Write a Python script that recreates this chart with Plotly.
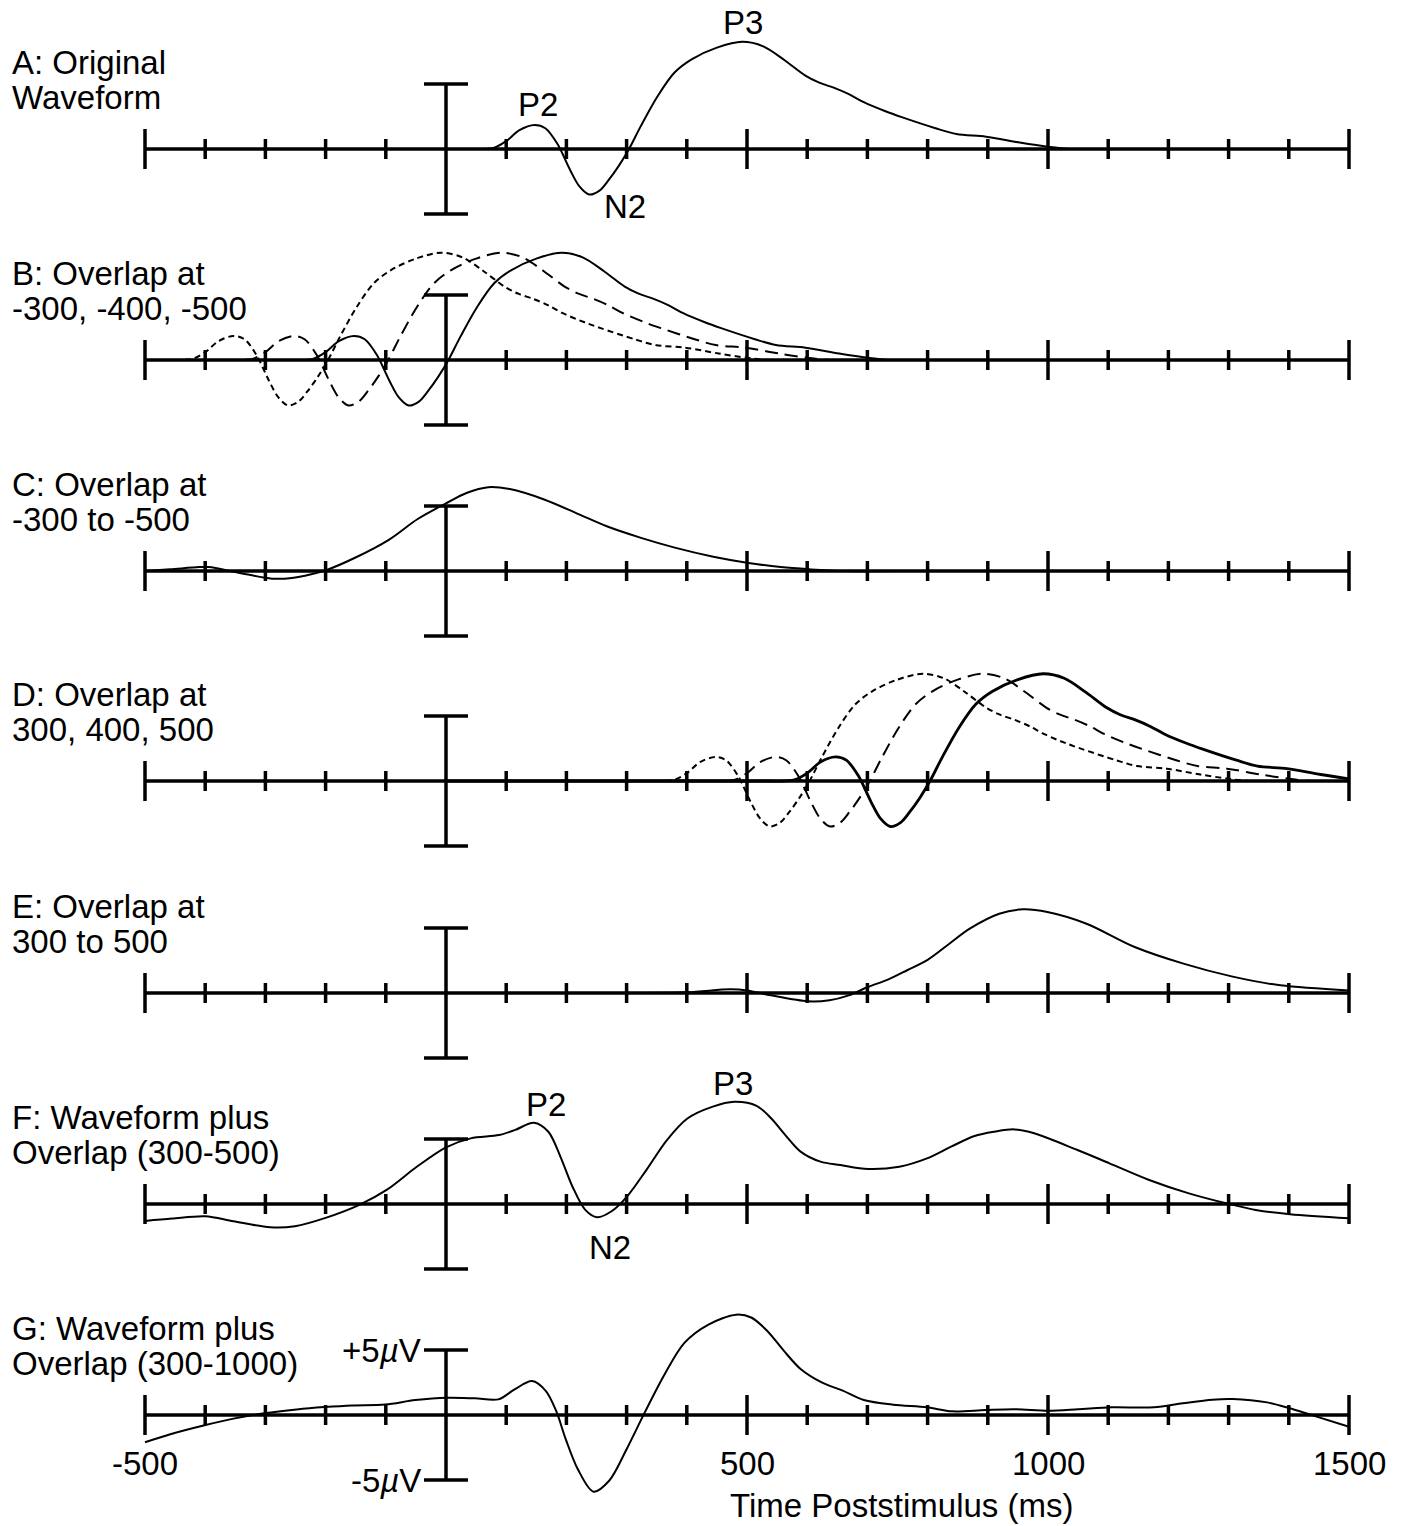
import plotly.graph_objects as go

# ---------------- data (ms, microvolts) ----------------
# A: original waveform
a_ms = [-500, -400, -300, -200, -100, 0, 40, 62, 80, 100, 122, 147, 165, 185, 206, 222,
        238, 255, 270, 287, 304, 324, 352, 380, 408, 450, 492, 527, 562, 597, 620, 645,
        670, 694, 730, 757, 813, 848, 897, 953, 1000, 1030, 1100, 1200, 1300, 1400, 1500]
a_uv = [0, 0, 0, 0, 0, 0, 0, 0.0, 0.1, 0.6, 1.45, 1.85, 1.6, 0.4, -1.6, -2.9,
        -3.5, -3.2, -2.4, -1.3, 0.0, 1.8, 4.1, 5.9, 6.9, 7.8, 8.25, 7.9, 6.85, 5.65, 5.1, 4.7,
        4.2, 3.6, 2.9, 2.45, 1.6, 1.15, 0.95, 0.5, 0.17, 0.02, 0, 0, 0, 0, 0]

# B / D: overlap latencies (the original waveform shifted)
b_shifts = [-300, -400, -500]
d_shifts = [300, 400, 500]

# C: overlap averaged over -300 to -500
c_ms = [-500, -458, -410, -394, -345, -289, -256, -224, -200, -152, -95, -47, 0, 34, 70,
        106, 163, 219, 267, 324, 380, 444, 500, 556, 604, 660, 800, 1000, 1200, 1500]
c_uv = [0, 0.13, 0.3, 0.3, -0.13, -0.59, -0.54, -0.25, 0.05, 1.0, 2.4, 4.0, 5.2, 6.0, 6.45,
        6.3, 5.5, 4.4, 3.44, 2.55, 1.8, 1.1, 0.64, 0.3, 0.13, 0, 0, 0, 0, 0]

# E: overlap averaged over 300 to 500
e_ms = [-500, 0, 300, 401, 472, 500, 540, 601, 637, 669, 701, 735, 766, 800, 835, 870, 919,
        959, 999, 1064, 1144, 1225, 1305, 1386, 1500]
e_uv = [0, 0, 0, 0.05, 0.28, 0.2, -0.18, -0.64, -0.56, -0.18, 0.46, 1.05, 1.75, 2.55, 3.75,
        4.95, 6.1, 6.44, 6.23, 5.33, 3.54, 2.26, 1.28, 0.59, 0.2]

# F: waveform plus overlap (300-500)
f_ms = [-500, -455, -400, -353, -292, -251, -200, -143, -98, -48, 0, 41, 88, 115, 146, 170,
        190, 210, 231, 251, 275, 301, 333, 367, 401, 442, 479, 516, 540, 562, 589, 622, 655,
        701, 753, 799, 839, 878, 911, 944, 977, 1049, 1102, 1168, 1234, 1301, 1345, 1402, 1500]
f_uv = [-1.3, -1.12, -0.94, -1.33, -1.79, -1.71, -1.07, -0.05, 1.1, 2.88, 4.36, 5.05, 5.3, 5.7,
        6.25, 5.56, 3.65, 1.35, -0.43, -1.02, -0.56, 0.59, 2.63, 4.92, 6.58, 7.47, 7.86, 7.55,
        6.6, 5.4, 4.03, 3.26, 3.0, 2.69, 2.87, 3.51, 4.41, 5.23, 5.56, 5.74, 5.44, 4.15, 3.13,
        1.85, 0.82, 0.0, -0.46, -0.79, -1.1]

# G: waveform plus overlap (300-1000)
g_ms = [-500, -458, -401, -353, -302, -248, -202, -156, -101, -51, 2, 48, 87, 114, 143, 166,
        183, 199, 219, 245, 271, 300, 330, 363, 396, 436, 482, 507, 533, 561, 589, 624, 659,
        694, 743, 799, 841, 896, 945, 1001, 1050, 1106, 1176, 1224, 1273, 1307, 1364, 1400,
        1441, 1500]
g_uv = [-2.1, -1.48, -0.79, -0.28, 0.13, 0.43, 0.61, 0.74, 0.8, 1.15, 1.33, 1.28, 1.2, 1.97,
        2.61, 1.84, 0.31, -1.87, -4.17, -5.9, -5.06, -2.63, 0.18, 3.12, 5.55, 6.96, 7.72, 7.5,
        6.5, 4.95, 3.54, 2.51, 1.87, 1.15, 0.79, 0.59, 0.28, 0.38, 0.44, 0.33, 0.44, 0.59, 0.59,
        0.9, 1.18, 1.23, 0.97, 0.54, -0.05, -0.9]

panel_labels = [
    ("A: Original", "Waveform"),
    ("B: Overlap at", "-300, -400, -500"),
    ("C: Overlap at", "-300 to -500"),
    ("D: Overlap at", "300, 400, 500"),
    ("E: Overlap at", "300 to 500"),
    ("F: Waveform plus", "Overlap (300-500)"),
    ("G: Waveform plus", "Overlap (300-1000)"),
]
minor_ticks = [t for t in range(-400, 1500, 100) if t not in (0, 500, 1000)]
major_ticks = [-500, 500, 1000, 1500]
tick_labels = ["-500", "500", "1000", "1500"]
x_title = "Time Poststimulus (ms)"

# ---------------- layout constants (pixels) ----------------
W, H = 1408, 1526
X0_PX, X1_PX = 145, 1349            # pixel of -500 ms and 1500 ms
MS_PER_PX = 2000.0 / (X1_PX - X0_PX)
XMIN = -500 - X0_PX * MS_PER_PX
XMAX = XMIN + W * MS_PER_PX
PX_PER_UV = 13.0
baselines = [149, 360, 571, 781, 993, 1204, 1415]
FONT = dict(family="Liberation Sans, Arial, Helvetica, sans-serif", size=33, color="black")


def yname(k):
    return "y" if k == 0 else f"y{k + 1}"


def px2ms(px):
    return XMIN + px * MS_PER_PX


fig = go.Figure()


def add_wave(xs, ys, k, dash="solid", width=2.0):
    fig.add_trace(go.Scatter(
        x=xs, y=ys, mode="lines", yaxis=yname(k), xaxis="x",
        line=dict(color="black", width=width, dash=dash, shape="spline", smoothing=0.9),
        hoverinfo="skip", showlegend=False))


def shifted(ms, uv, s):
    xs, ys = [], []
    for m, v in zip(ms, uv):
        if -500 <= m + s <= 1500:
            xs.append(m + s)
            ys.append(v)
    return xs, ys


LONG_DASH = "13px,7px"
SHORT_DASH = "6px,4px"

# A
add_wave(a_ms, a_uv, 0)
# B
for s, d in zip(b_shifts, ["solid", LONG_DASH, SHORT_DASH]):
    xs, ys = shifted(a_ms, a_uv, s)
    add_wave(xs, ys, 1, dash=d)
# C
add_wave(c_ms, c_uv, 2)
# D
for s, d, w in zip(d_shifts, [SHORT_DASH, LONG_DASH, "solid"], [2.0, 2.0, 2.8]):
    xs, ys = shifted(a_ms, a_uv, s)
    add_wave(xs, ys, 3, dash=d, width=w)
# E
add_wave(e_ms, e_uv, 4)
# F
add_wave(f_ms, f_uv, 5)
# G
add_wave(g_ms, g_uv, 6)

# ---------------- axes drawn as shapes ----------------
AX_W = 3.5
SMALL = 10 / PX_PER_UV
BIG = 20 / PX_PER_UV
CAP = 22 * MS_PER_PX
shapes = []
for k in range(7):
    yr = yname(k)
    ln = dict(color="black", width=AX_W)
    shapes.append(dict(type="line", xref="x", yref=yr, x0=-500, x1=1500, y0=0, y1=0, line=ln))
    for t in minor_ticks:
        shapes.append(dict(type="line", xref="x", yref=yr, x0=t, x1=t, y0=-SMALL, y1=SMALL, line=ln))
    for t in major_ticks:
        shapes.append(dict(type="line", xref="x", yref=yr, x0=t, x1=t, y0=-BIG, y1=BIG, line=ln))
    shapes.append(dict(type="line", xref="x", yref=yr, x0=0, x1=0, y0=-5, y1=5, line=ln))
    for yy in (-5, 5):
        shapes.append(dict(type="line", xref="x", yref=yr, x0=-CAP, x1=CAP, y0=yy, y1=yy, line=ln))

# ---------------- text ----------------
ann = []
for k, (l1, l2) in enumerate(panel_labels):
    for txt, off in ((l1, 87), (l2, 52)):
        ann.append(dict(text=txt, xref="paper", x=10 / W, xanchor="left",
                        yref=yname(k), y=off / PX_PER_UV, yanchor="middle",
                        showarrow=False, font=FONT))

peak_labels = [  # (panel, text, px_x, px_y)
    (0, "P2", 538, 104), (0, "N2", 625, 206), (0, "P3", 743, 22),
    (5, "P2", 546, 1104), (5, "N2", 610, 1247), (5, "P3", 733, 1083),
]
for k, txt, px, py in peak_labels:
    ann.append(dict(text=txt, xref="x", x=px2ms(px), xanchor="center",
                    yref=yname(k), y=(baselines[k] - py) / PX_PER_UV, yanchor="middle",
                    showarrow=False, font=FONT))

for val, txt in ((5, "+5<i>µ</i>V"), (-5, "-5<i>µ</i>V")):
    ann.append(dict(text=txt, xref="x", x=px2ms(423), xanchor="right",
                    yref=yname(6), y=val, yanchor="middle", showarrow=False, font=FONT))

for t, txt in zip(major_ticks, tick_labels):
    ann.append(dict(text=txt, xref="x", x=t, xanchor="center",
                    yref=yname(6), y=(1415 - 1463) / PX_PER_UV, yanchor="middle",
                    showarrow=False, font=FONT))
ann.append(dict(text=x_title, xref="x", x=px2ms(901), xanchor="center",
                yref=yname(6), y=(1415 - 1505) / PX_PER_UV, yanchor="middle",
                showarrow=False, font=FONT))

layout = dict(
    width=W, height=H, margin=dict(l=0, r=0, t=0, b=0),
    paper_bgcolor="white", plot_bgcolor="white", showlegend=False,
    xaxis=dict(range=[XMIN, XMAX], visible=False, fixedrange=True),
    shapes=shapes, annotations=ann,
)
for k, b in enumerate(baselines):
    key = "yaxis" if k == 0 else f"yaxis{k + 1}"
    ax = dict(range=[-(H - b) / PX_PER_UV, b / PX_PER_UV], visible=False, fixedrange=True,
              anchor="x")
    if k > 0:
        ax["overlaying"] = "y"
    layout[key] = ax

fig.update_layout(**layout)
fig.write_html("out.html")
